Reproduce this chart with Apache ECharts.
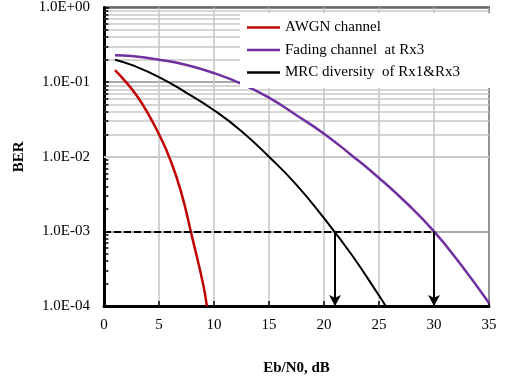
<!DOCTYPE html>
<html>
<head>
<meta charset="utf-8">
<script src="https://cdn.jsdelivr.net/npm/echarts@6/dist/echarts.min.js"></script>
<style>
  html, body { margin: 0; padding: 0; background: #fff; }
  #main { width: 506px; height: 381px; }
</style>
</head>
<body>
<div id="main"></div>
<script>
/* Data */
var awgnX = [1, 2, 3, 4, 5, 6, 7, 8, 9, 9.35];
var awgnBer = [0.145, 0.100, 0.065, 0.038, 0.020, 0.0093, 0.0034, 8.5e-4, 2.0e-4, 1.0e-4];

var fadingX = [1, 2.5, 5, 7.5, 10, 12.5, 15, 17.5, 20, 22.5, 25, 27.5, 30, 32.5, 35];
var fadingBer = [0.23, 0.224, 0.20, 0.17, 0.132, 0.095, 0.062, 0.036, 0.0204, 0.0105, 0.0052, 0.0024, 0.0010, 3.5e-4, 1.1e-4];

var mrcX = [1, 2.5, 5, 7.5, 10, 12.5, 15, 17.5, 20, 22.5, 25, 25.6];
var mrcBer = [0.20, 0.17, 0.117, 0.072, 0.042, 0.022, 0.010, 0.0042, 0.0015, 4.9e-4, 1.38e-4, 1.0e-4];

var seriesNames = ["AWGN channel", "Fading channel  at Rx3", "MRC diversity  of Rx1&Rx3"];
var seriesColors = ["#c00000", "#7030a0", "#000000"];

var targetBer = 1e-3;
var arrowX = [21, 30];
var berMin = 1e-4, berMax = 1;

function pairs(xs, ys) {
    return xs.map(function (x, i) { return [x, ys[i]]; });
}

/* 1.0E-03 style labels */
function sci(v) {
    var s = v.toExponential(1).split("e");
    var e = parseInt(s[1], 10);
    return s[0] + "E" + (e < 0 ? "-" : "+") + String(Math.abs(e)).padStart(2, "0");
}

/* minor log grid at 2..9 x each decade */
var minorGrid = [];
var minorTicks = [];
for (var d = berMin; d < berMax * 0.99; d *= 10) {
    for (var m = 2; m <= 9; m++) {
        minorGrid.push({ yAxis: m * d });
        minorTicks.push([{ coord: [0, m * d] }, { coord: [0.4, m * d] }]);
    }
}

var font = "Liberation Serif";

var lineSeries = [
    [awgnX, awgnBer, 2.5],
    [fadingX, fadingBer, 2.5],
    [mrcX, mrcBer, 2]
].map(function (s, i) {
    return {
        name: seriesNames[i],
        type: "line",
        data: pairs(s[0], s[1]),
        smooth: 0.5,
        symbol: "none",
        z: 3,
        lineStyle: { color: seriesColors[i], width: s[2] },
        itemStyle: { color: seriesColors[i] },
    };
});

var option = {
    animation: false,
    backgroundColor: "#fff",
    textStyle: { fontFamily: font, color: "#000" },
    grid: {
        left: 104,
        right: 17,
        top: 5,
        bottom: 70,
        show: true,
        borderColor: "#000",
        borderWidth: 2,
        backgroundColor: "#fff",
    },
    legend: {
        data: seriesNames.map(function (n) { return { name: n, icon: "rect" }; }),
        orient: "vertical",
        left: 240,
        top: 13,
        padding: [6, 30, 7, 7],
        itemWidth: 33,
        itemHeight: 2.5,
        itemGap: 5.5,
        z: 10,
        backgroundColor: "#fff",
        textStyle: { fontFamily: font, fontSize: 15, color: "#000", lineHeight: 17 },
    },
    xAxis: {
        type: "value",
        min: 0,
        max: 35,
        interval: 5,
        name: "Eb/N0, dB",
        nameLocation: "middle",
        nameGap: 55,
        nameTextStyle: { fontFamily: font, fontSize: 15, fontWeight: "bold", color: "#000" },
        axisLine: { lineStyle: { color: "#000", width: 3 } },
        axisTick: { inside: true, length: 5, lineStyle: { color: "#000", width: 1.5 } },
        axisLabel: { fontFamily: font, fontSize: 15, color: "#000", margin: 12 },
        splitLine: { show: true, lineStyle: { color: "#c4c4c4", width: 1.5 } },
    },
    yAxis: {
        type: "log",
        logBase: 10,
        min: berMin,
        max: berMax,
        name: "BER",
        nameLocation: "middle",
        nameGap: 77,
        nameRotate: 90,
        nameTextStyle: { fontFamily: font, fontSize: 15, fontWeight: "bold", color: "#000" },
        axisLine: { lineStyle: { color: "#000", width: 3 } },
        axisTick: { inside: true, length: 5, lineStyle: { color: "#000", width: 1.5 } },
        axisLabel: { fontFamily: font, fontSize: 15, color: "#000", margin: 14, formatter: sci },
        splitLine: { show: true, lineStyle: { color: "#8c8c8c", width: 1.5 } },
    },
    series: [
        {
            name: "log grid",
            type: "line",
            data: [],
            z: 1,
            silent: true,
            markLine: {
                z: 1,
                silent: true,
                symbol: "none",
                label: { show: false },
                lineStyle: { color: "#c8c8c8", width: 1.5, type: "solid" },
                data: minorGrid,
            },
        },
        {
            name: "log ticks",
            type: "line",
            data: [],
            z: 5,
            silent: true,
            markLine: {
                z: 5,
                silent: true,
                symbol: "none",
                label: { show: false },
                lineStyle: { color: "#000", width: 1.5, type: "solid" },
                data: minorTicks,
            },
        },
    ].concat(lineSeries).concat([
        {
            name: "target",
            type: "line",
            data: [],
            z: 4,
            silent: true,
            markLine: {
                z: 4,
                silent: true,
                symbol: ["none", "none"],
                label: { show: false },
                lineStyle: { color: "#000", width: 2, type: [7, 3] },
                data: [[{ coord: [0, targetBer] }, { coord: [arrowX[1], targetBer] }]],
            },
        },
        {
            name: "arrows",
            type: "line",
            data: [],
            z: 4,
            silent: true,
            markLine: {
                z: 4,
                silent: true,
                symbol: ["none", "arrow"],
                symbolSize: [9, 11],
                label: { show: false },
                lineStyle: { color: "#000", width: 2, type: "solid" },
                data: arrowX.map(function (x) {
                    return [{ coord: [x, targetBer] }, { coord: [x, berMin] }];
                }),
            },
        },
    ]),
};

var myChart = echarts.init(document.getElementById("main"));
myChart.setOption(option);
</script>
</body>
</html>
